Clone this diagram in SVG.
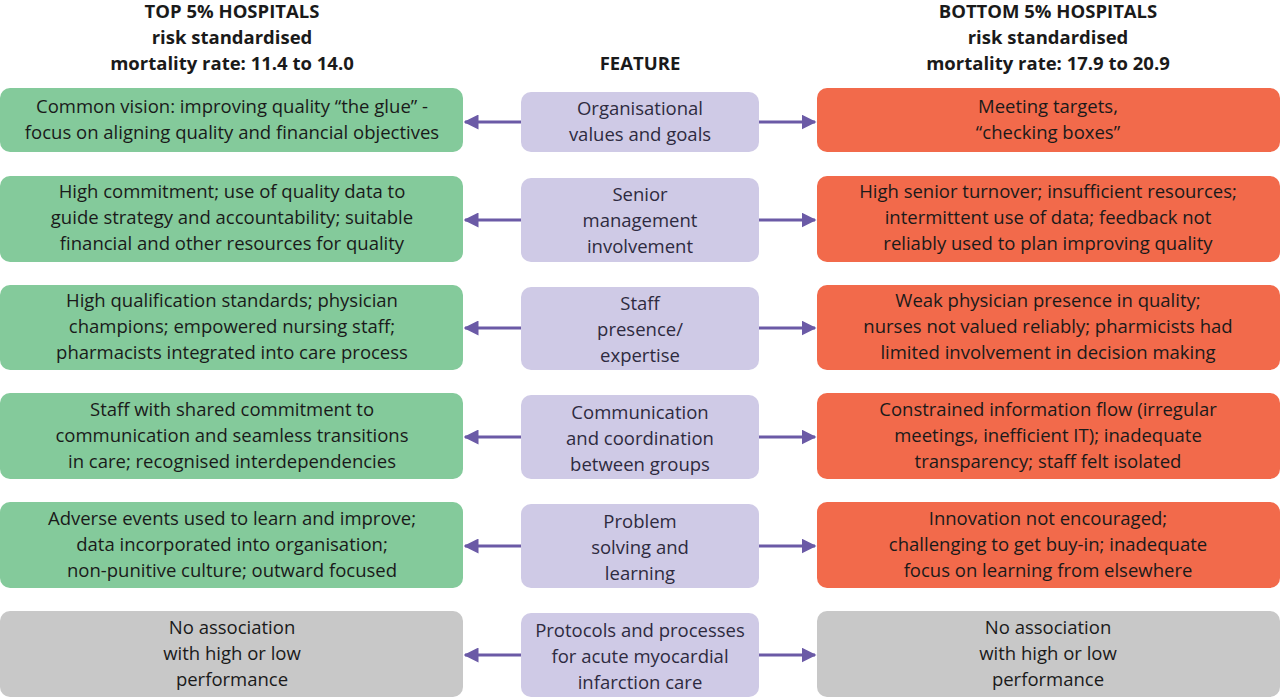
<svg xmlns="http://www.w3.org/2000/svg" width="1280" height="698" viewBox="0 0 1280 698">
<style>
text{font-family:"Open Sans","Liberation Sans",sans-serif;font-size:18.5px;fill:#1a1a1a;text-anchor:middle}
.h{font-weight:bold;font-size:18.5px}
.g{fill:#84ca9b}.p{fill:#cfcae6}.o{fill:#f26a4b}.y{fill:#c8c8c8}
.c{stroke:#6b5aa6;stroke-width:3;fill:none}
.m text{fill:#2e2a40}
</style>
<defs><marker id="a" viewBox="0 0 10 10" refX="9" refY="5" markerWidth="5" markerHeight="5" orient="auto-start-reverse" markerUnits="strokeWidth"><path d="M0,0L10,5L0,10z" fill="#6b5aa6"/></marker></defs>
<g id="headers">
<text class="h" x="232" y="18">TOP 5% HOSPITALS</text><text class="h" x="232" y="44">risk standardised</text><text class="h" x="232" y="70">mortality rate: 11.4 to 14.0</text>
<text class="h" x="640" y="70">FEATURE</text>
<text class="h" x="1048" y="18">BOTTOM 5% HOSPITALS</text><text class="h" x="1048" y="44">risk standardised</text><text class="h" x="1048" y="70">mortality rate: 17.9 to 20.9</text>
</g>
<g id="connectors">
<line class="c" x1="521" y1="122" x2="465" y2="122" marker-end="url(#a)"/><line class="c" x1="759" y1="122" x2="815" y2="122" marker-end="url(#a)"/>
<line class="c" x1="521" y1="220" x2="465" y2="220" marker-end="url(#a)"/><line class="c" x1="759" y1="220" x2="815" y2="220" marker-end="url(#a)"/>
<line class="c" x1="521" y1="328" x2="465" y2="328" marker-end="url(#a)"/><line class="c" x1="759" y1="328" x2="815" y2="328" marker-end="url(#a)"/>
<line class="c" x1="521" y1="437" x2="465" y2="437" marker-end="url(#a)"/><line class="c" x1="759" y1="437" x2="815" y2="437" marker-end="url(#a)"/>
<line class="c" x1="521" y1="546" x2="465" y2="546" marker-end="url(#a)"/><line class="c" x1="759" y1="546" x2="815" y2="546" marker-end="url(#a)"/>
<line class="c" x1="521" y1="655" x2="465" y2="655" marker-end="url(#a)"/><line class="c" x1="759" y1="655" x2="815" y2="655" marker-end="url(#a)"/>
</g>
<g id="l1"><rect class="g" x="0" y="88" width="463" height="64" rx="10"/><text x="232" y="113">Common vision: improving quality “the glue” -</text><text x="232" y="139">focus on aligning quality and financial objectives</text></g>
<g id="m1" class="m"><rect class="p" x="521" y="92" width="238" height="60" rx="10"/><text x="640" y="115">Organisational</text><text x="640" y="141">values and goals</text></g>
<g id="r1"><rect class="o" x="817" y="88" width="463" height="64" rx="10"/><text x="1048" y="113">Meeting targets,</text><text x="1048" y="139">“checking boxes”</text></g>

<g id="l2"><rect class="g" x="0" y="176" width="463" height="86" rx="10"/><text x="232" y="198">High commitment; use of quality data to</text><text x="232" y="224">guide strategy and accountability; suitable</text><text x="232" y="250">financial and other resources for quality</text></g>
<g id="m2" class="m"><rect class="p" x="521" y="178" width="238" height="84" rx="10"/><text x="640" y="201">Senior</text><text x="640" y="227">management</text><text x="640" y="253">involvement</text></g>
<g id="r2"><rect class="o" x="817" y="176" width="463" height="86" rx="10"/><text x="1048" y="198">High senior turnover; insufficient resources;</text><text x="1048" y="224">intermittent use of data; feedback not</text><text x="1048" y="250">reliably used to plan improving quality</text></g>

<g id="l3"><rect class="g" x="0" y="285" width="463" height="85" rx="10"/><text x="232" y="307">High qualification standards; physician</text><text x="232" y="333">champions; empowered nursing staff;</text><text x="232" y="359">pharmacists integrated into care process</text></g>
<g id="m3" class="m"><rect class="p" x="521" y="287" width="238" height="83" rx="10"/><text x="640" y="310">Staff</text><text x="640" y="336">presence/</text><text x="640" y="362">expertise</text></g>
<g id="r3"><rect class="o" x="817" y="285" width="463" height="85" rx="10"/><text x="1048" y="307">Weak physician presence in quality;</text><text x="1048" y="333">nurses not valued reliably; pharmicists had</text><text x="1048" y="359">limited involvement in decision making</text></g>

<g id="l4"><rect class="g" x="0" y="393" width="463" height="86" rx="10"/><text x="232" y="416">Staff with shared commitment to</text><text x="232" y="442">communication and seamless transitions</text><text x="232" y="468">in care; recognised interdependencies</text></g>
<g id="m4" class="m"><rect class="p" x="521" y="395" width="238" height="84" rx="10"/><text x="640" y="419">Communication</text><text x="640" y="445">and coordination</text><text x="640" y="471">between groups</text></g>
<g id="r4"><rect class="o" x="817" y="393" width="463" height="86" rx="10"/><text x="1048" y="416">Constrained information flow (irregular</text><text x="1048" y="442">meetings, inefficient IT); inadequate</text><text x="1048" y="468">transparency; staff felt isolated</text></g>

<g id="l5"><rect class="g" x="0" y="502" width="463" height="86" rx="10"/><text x="232" y="525">Adverse events used to learn and improve;</text><text x="232" y="551">data incorporated into organisation;</text><text x="232" y="577">non-punitive culture; outward focused</text></g>
<g id="m5" class="m"><rect class="p" x="521" y="504" width="238" height="84" rx="10"/><text x="640" y="528">Problem</text><text x="640" y="554">solving and</text><text x="640" y="580">learning</text></g>
<g id="r5"><rect class="o" x="817" y="502" width="463" height="86" rx="10"/><text x="1048" y="525">Innovation not encouraged;</text><text x="1048" y="551">challenging to get buy-in; inadequate</text><text x="1048" y="577">focus on learning from elsewhere</text></g>

<g id="l6"><rect class="y" x="0" y="611" width="463" height="86" rx="10"/><text x="232" y="634">No association</text><text x="232" y="660">with high or low</text><text x="232" y="686">performance</text></g>
<g id="m6" class="m"><rect class="p" x="521" y="613" width="238" height="84" rx="10"/><text x="640" y="637">Protocols and processes</text><text x="640" y="663">for acute myocardial</text><text x="640" y="689">infarction care</text></g>
<g id="r6"><rect class="y" x="817" y="611" width="463" height="86" rx="10"/><text x="1048" y="634">No association</text><text x="1048" y="660">with high or low</text><text x="1048" y="686">performance</text></g>
</svg>
